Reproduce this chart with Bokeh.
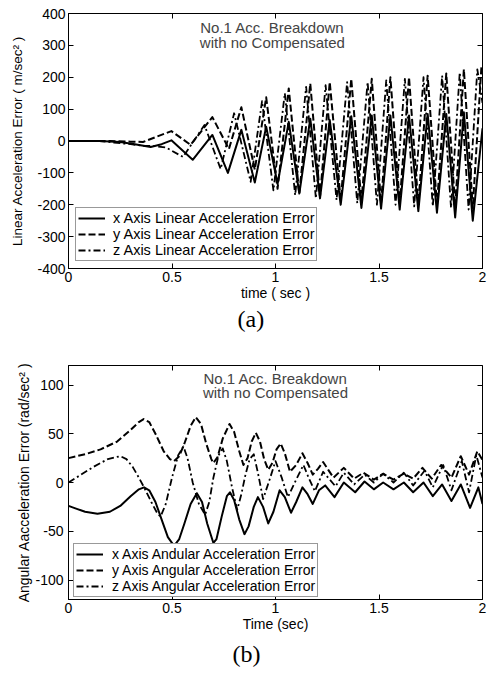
from bokeh.plotting import figure
from bokeh.models import Range1d, LinearAxis, FixedTicker, Legend, LegendItem, Label, Title
from bokeh.layouts import column
from bokeh.embed import file_html
from bokeh.resources import INLINE

# ---------------- data: (a) linear acceleration error ----------------
a_x_t = [0.0, 0.15, 0.25, 0.32, 0.397, 0.45, 0.497, 0.60, 0.695, 0.77, 0.835, 0.90, 0.955, 1.01,
         1.064, 1.115, 1.168, 1.215, 1.262, 1.315, 1.366, 1.415, 1.465, 1.51, 1.555, 1.60, 1.645,
         1.69, 1.735, 1.78, 1.825, 1.868, 1.91, 1.953, 2.0]
a_x_v = [0, 0, -3, -10, -19, -10, 2, -59, 19, -100, 35, -130, 45, -135,
         60, -165, 70, -180, 66, -200, 78, -210, 80, -212, 80, -215, 80,
         -220, 85, -225, 85, -240, 90, -250, 40]

a_y_t = [0.0, 0.2, 0.3, 0.36, 0.42, 0.497, 0.59, 0.695, 0.775, 0.835, 0.90, 0.955, 1.01, 1.064,
         1.115, 1.168, 1.215, 1.262, 1.315, 1.366, 1.415, 1.465, 1.51, 1.555, 1.60, 1.645, 1.69,
         1.735, 1.78, 1.825, 1.868, 1.91, 1.953, 1.995, 2.0]
a_y_v = [0, 0, -2, -3, 12, 31, -12, 75, -25, 106, -90, 137, -150, 165,
         -165, 180, -175, 185, -185, 195, -190, 195, -195, 200, -195, 200, -200,
         205, -200, 212, -205, 225, -210, 235, 230]

a_z_t = [0.0, 0.15, 0.22, 0.30, 0.36, 0.40, 0.47, 0.553, 0.657, 0.735, 0.80, 0.88, 0.935, 0.99,
         1.045, 1.095, 1.148, 1.195, 1.242, 1.295, 1.346, 1.395, 1.445, 1.49, 1.535, 1.58, 1.625,
         1.67, 1.715, 1.76, 1.805, 1.848, 1.89, 1.933, 1.975, 2.0]
a_z_v = [0, 0, -5, -10, -15, -15, -20, -50, 50, -88, 87, -128, 125, -155,
         150, -170, 170, -180, 175, -185, 185, -195, 185, -200, 190, -200, 195,
         -205, 200, -205, 205, -210, 215, -215, 225, 120]

# ---------------- data: (b) angular acceleration error ----------------
b_x_t = [0.0, 0.04, 0.08, 0.14, 0.20, 0.25, 0.30, 0.34, 0.365, 0.39, 0.42, 0.45, 0.48, 0.51,
         0.535, 0.56, 0.59, 0.62, 0.645, 0.67, 0.70, 0.715, 0.74, 0.765, 0.78, 0.80, 0.825,
         0.85, 0.87, 0.895, 0.915, 0.94, 0.965, 0.99, 1.02, 1.045, 1.075, 1.10, 1.13, 1.155,
         1.18, 1.21, 1.24, 1.285, 1.33, 1.385, 1.43, 1.475, 1.52, 1.57, 1.62, 1.665, 1.715,
         1.76, 1.805, 1.85, 1.895, 1.94, 1.98, 2.0]
b_x_v = [-24, -27, -30, -32, -30, -24, -14, -7, -5, -8, -20, -38, -56, -65,
         -58, -42, -22, -11, -20, -42, -62, -58, -35, -14, -10, -18, -38,
         -53, -45, -25, -15, -25, -42, -30, -8, -15, -31, -20, -5, -12,
         -22, -8, -3, -15, 0, -10, 1, -7, 0, -7, 0, -10, 0,
         -14, -2, -19, -2, -26, -5, -22]

b_y_t = [0.0, 0.08, 0.155, 0.235, 0.30, 0.34, 0.363, 0.39, 0.42, 0.46, 0.49, 0.51, 0.535,
         0.56, 0.59, 0.615, 0.64, 0.665, 0.69, 0.70, 0.72, 0.745, 0.778, 0.80, 0.825, 0.845,
         0.865, 0.885, 0.905, 0.925, 0.945, 0.965, 0.985, 1.005, 1.025, 1.045, 1.07, 1.10,
         1.13, 1.155, 1.18, 1.205, 1.23, 1.255, 1.28, 1.33, 1.38, 1.425, 1.475, 1.52, 1.57,
         1.62, 1.665, 1.71, 1.755, 1.80, 1.85, 1.895, 1.935, 1.975, 2.0]
b_y_v = [25, 29, 34, 42, 54, 62, 65, 62, 50, 32, 24, 22, 27,
         40, 58, 67, 60, 40, 24, 20, 26, 45, 60, 52, 32, 18,
         25, 42, 51, 42, 24, 13, 20, 34, 40, 30, 11, 18,
         30, 20, 8, 14, 21, 13, 5, 15, 4, 10, 3, 9, 3,
         9, 4, 15, 4, 18, 5, 27, 8, 32, 23]

b_z_t = [0.0, 0.06, 0.12, 0.19, 0.25, 0.28, 0.31, 0.34, 0.365, 0.40, 0.43, 0.445, 0.47, 0.50,
         0.53, 0.555, 0.575, 0.60, 0.63, 0.66, 0.68, 0.70, 0.725, 0.745, 0.765, 0.79, 0.815,
         0.835, 0.855, 0.875, 0.895, 0.915, 0.94, 0.97, 1.0, 1.03, 1.06, 1.10, 1.135, 1.16,
         1.19, 1.23, 1.29, 1.33, 1.38, 1.43, 1.475, 1.52, 1.57, 1.62, 1.665, 1.72, 1.76,
         1.81, 1.85, 1.90, 1.935, 1.97, 2.0]
b_z_v = [0, 8, 16, 24, 27, 24, 16, 5, -5, -20, -32, -35, -22, 5,
         28, 37, 25, 0, -22, -33, -20, 5, 28, 35, 22, -5, -28,
         -12, 8, 24, 29, 10, -17, 2, 22, 5, -15, 3, 18, 5,
         -9, 11, -4, 10, -2, 8, 0, 9, 0, 10, -3, 12, -5,
         18, -8, 22, -10, 28, 5]

x_ticks = [0, 0.5, 1, 1.5, 2]
x_tick_labels = ["0", "0.5", "1", "1.5", "2"]
a_y_ticks = [-400, -300, -200, -100, 0, 100, 200, 300, 400]
a_y_tick_labels = ["-400", "-300", "-200", "-100", "0", "100", "200", "300", "400"]
b_y_ticks = [-100, -50, 0, 50, 100]
b_y_tick_labels = ["-100", "-50", "0", "50", "100"]

a_legend = ["x Axis Linear Acceleration Error", "y Axis Linear Acceleration Error",
            "z Axis Linear Acceleration Error"]
b_legend = ["x Axis Andular Acceleration Error", "y Axis Angular Acceleration Error",
            "z Axis Angular Acceleration Error"]

SANS = "Liberation Sans"
SERIF = "Liberation Serif"


def build(height, yrange, yticks, ylabels, ylabel, xlabel, borders, ylab_size,
          ylab_standoff, ytick_standoff, xtick_standoff, xlab_standoff):
    bl, br, bt, bb = borders
    p = figure(width=487, height=height, x_range=Range1d(0, 2), y_range=Range1d(*yrange),
               output_backend="svg", toolbar_location=None,
               min_border_left=bl, min_border_right=br, min_border_top=bt, min_border_bottom=bb)
    p.grid.visible = False
    p.outline_line_color = "black"
    p.outline_line_width = 1
    p.background_fill_color = "white"
    p.border_fill_color = "white"

    xa = p.xaxis[0]
    xa.ticker = FixedTicker(ticks=x_ticks)
    xa.major_label_overrides = {t: s for t, s in zip(x_ticks, x_tick_labels)}
    xa.axis_label = xlabel
    ya = p.yaxis[0]
    ya.ticker = FixedTicker(ticks=yticks)
    ya.major_label_overrides = {t: s for t, s in zip(yticks, ylabels)}
    ya.axis_label = ylabel
    for ax in (xa, ya):
        ax.minor_tick_line_color = None
        ax.major_tick_in = 5
        ax.major_tick_out = 0
        ax.major_tick_line_color = "black"
        ax.axis_line_color = "black"
        ax.major_label_text_font = SANS
        ax.major_label_text_font_size = "14px"
        ax.major_label_text_color = "black"
        ax.axis_label_text_font = SANS
        ax.axis_label_text_font_style = "normal"
        ax.axis_label_text_color = "black"
    xa.axis_label_text_font_size = "14px"
    ya.axis_label_text_font_size = ylab_size
    ya.axis_label_standoff = ylab_standoff
    ya.major_label_standoff = ytick_standoff
    xa.major_label_standoff = xtick_standoff
    xa.axis_label_standoff = xlab_standoff

    top = LinearAxis(ticker=FixedTicker(ticks=x_ticks))
    right = LinearAxis(ticker=FixedTicker(ticks=yticks))
    for ax in (top, right):
        ax.minor_tick_line_color = None
        ax.major_tick_in = 5
        ax.major_tick_out = 0
        ax.major_tick_line_color = "black"
        ax.major_label_text_font_size = "1px"
        ax.major_label_text_color = None
        ax.major_label_standoff = 0
        ax.axis_line_color = None
    p.add_layout(top, "above")
    p.add_layout(right, "right")
    return p


def add_lines(p, xs, legend_labels, loc, fs, standoff):
    styles = [("solid", 2.0), ("7 3", 2.0), ("7 3 2 3", 1.8)]
    rs = []
    for (t, v), (dash, w) in zip(xs, styles):
        rs.append(p.line(t, v, line_color="black", line_width=w, line_dash=dash,
                         line_join="round"))
    items = [LegendItem(label=lab, renderers=[r]) for lab, r in zip(legend_labels, rs)]
    lg = Legend(items=items, location=loc)
    lg.label_text_font = SANS
    lg.label_text_font_size = fs
    lg.label_text_color = "black"
    lg.glyph_width = 27
    lg.glyph_height = 12
    lg.label_height = 12
    lg.label_standoff = standoff
    lg.spacing = 0
    lg.padding = 2
    lg.margin = 0
    lg.border_line_color = "#333333"
    lg.border_line_width = 1
    lg.background_fill_color = "white"
    lg.background_fill_alpha = 1
    p.add_layout(lg)


# ---------------- figure (a) ----------------
pa = build(335, (-400, 400), a_y_ticks, a_y_tick_labels,
           "Linear Acceleration Error ( m/sec\u00b2 )", "time ( sec )",
           (63, 1, 13, 67), "13.5px", 9, 3, 3, 0)
add_lines(pa, [(a_x_t, a_x_v), (a_y_t, a_y_v), (a_z_t, a_z_v)], a_legend, (7, 7), "14.5px", 8)
pa.add_layout(Label(x=0.985, y=356, text="No.1 Acc. Breakdown", text_align="center",
                    text_baseline="middle", text_font=SANS, text_font_size="15px"))
pa.add_layout(Label(x=0.985, y=309, text="with no Compensated", text_align="center",
                    text_baseline="middle", text_font=SANS, text_font_size="15px"))
pa.add_layout(Title(text="(a)", align="left", offset=169, text_font=SERIF,
                    text_font_size="24px", text_font_style="normal", text_color="black",
                    standoff=0), "below")

# ---------------- figure (b) ----------------
pb = build(345, (-120, 120), b_y_ticks, b_y_tick_labels,
           "Angular Aacceleration Error (rad/sec\u00b2 )", "Time (sec)",
           (68, 5, 30, 81), "14px", 0, 5, 3, 0)
add_lines(pb, [(b_x_t, b_x_v), (b_y_t, b_y_v), (b_z_t, b_z_v)], b_legend, (5, 2), "14px", 9)
pb.add_layout(Label(x=1.0, y=107, text="No.1 Acc. Breakdown", text_align="center",
                    text_baseline="middle", text_font=SANS, text_font_size="15px"))
pb.add_layout(Label(x=1.0, y=92, text="with no Compensated", text_align="center",
                    text_baseline="middle", text_font=SANS, text_font_size="15px"))
pb.add_layout(Title(text="(b)", align="left", offset=164, text_font=SERIF,
                    text_font_size="24px", text_font_style="normal", text_color="black",
                    standoff=8), "below")

layout = column(pa, pb)
open("out.html", "w").write(file_html(layout, INLINE))
